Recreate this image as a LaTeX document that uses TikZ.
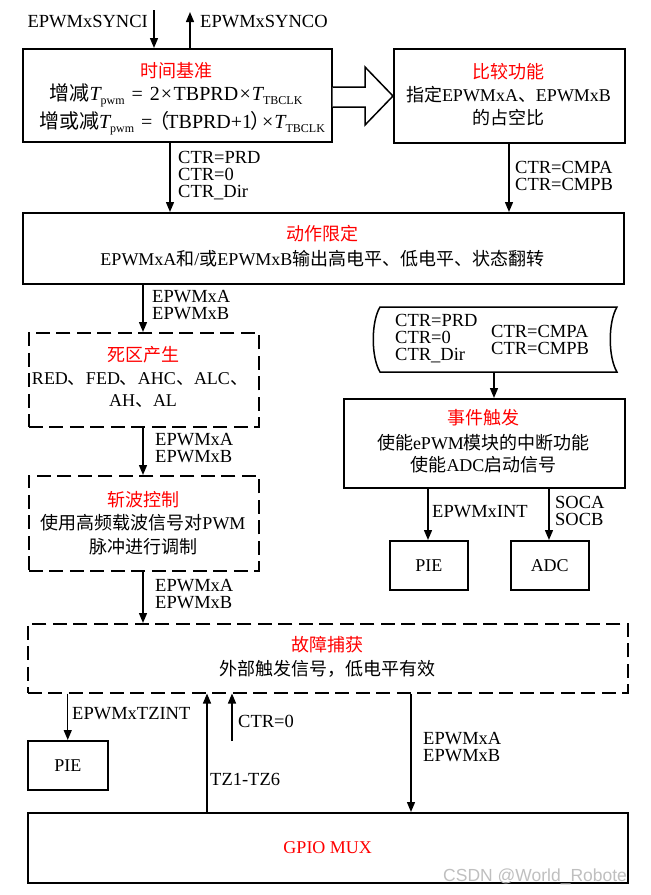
\documentclass[tikz,border=0pt]{standalone}
\usepackage{fontspec}
\setmainfont{Liberation Serif}
\newfontfamily\cjk{Noto Sans CJK SC}
\newfontfamily\wmfont{Liberation Sans}
\usetikzlibrary{arrows.meta}
\newcommand\zh[1]{{\cjk #1}}
\newcommand\sbx[1]{\raisebox{-4pt}{\fontsize{12}{12}\selectfont #1}}
\begin{document}
\begin{tikzpicture}[x=1pt,y=-1pt,
  box/.style={draw, line width=1.5pt, inner sep=0pt, anchor=north west},
  dbox/.style={box, dash pattern=on 14pt off 6.5pt},
  ttl/.style={text=red, font=\fontsize{18}{18}\selectfont\cjk, inner sep=0pt},
  txt/.style={font=\fontsize{18}{18}\selectfont, inner sep=0pt},
  mth/.style={font=\fontsize{20}{20}\selectfont, inner sep=0pt},
  lbl/.style={font=\fontsize{18.5}{17}\selectfont, align=left, anchor=west, inner sep=0pt},
  arr/.style={line width=1.4pt, -{Triangle[length=10pt,width=8pt]}},
  hollow/.style={line width=1.5pt, fill=white, line join=miter}]
\useasboundingbox (0,0) rectangle (651,895);

% boxes
\node[box, minimum width=309, minimum height=93] (tb) at (22,48) {};
\node[box, minimum width=231, minimum height=94] (cmp) at (393,48) {};
\node[box, minimum width=601, minimum height=71] (act) at (22,212) {};
\node[dbox, minimum width=230, minimum height=94] (db) at (28,332) {};
\node[dbox, minimum width=230, minimum height=95] (pc) at (28,475) {};
\node[box, minimum width=281, minimum height=89] (ev) at (343,398) {};
\node[box, minimum width=78, minimum height=49] (pie1) at (389,540) {};
\node[box, minimum width=78, minimum height=49] (adc) at (510,540) {};
\node[dbox, minimum width=600, minimum height=69] (tz) at (27,623) {};
\node[box, minimum width=80, minimum height=49] (pie2) at (27,740) {};
\node[box, minimum width=600, minimum height=70] (gpio) at (27,812) {};

% texts
\node[ttl] (tbT) at (176,71) {时间基准};
\node[mth] (tb1) at (176,95) {\zh{增减}{\itshape T}\sbx{pwm}\hspace{7pt}=\hspace{7pt}2\hspace{1pt}×\hspace{1.5pt}TBPRD\hspace{1.5pt}×\hspace{1pt}{\itshape T}\sbx{TBCLK}};
\node[mth] (tb2) at (182,123) {\zh{增或减}{\itshape T}\sbx{pwm}\hspace{7pt}=\hspace{-3pt}\zh{（}\hspace{-3pt}TBPRD+1\hspace{-2pt}\zh{）}\hspace{-8pt}×\hspace{1pt}{\itshape T}\sbx{TBCLK}};

\node[ttl] (cmpT) at (508.5,72) {比较功能};
\node[txt] (cmp1) at (508.5,95) {\zh{指定}EPWMxA\zh{、}EPWMxB};
\node[txt] (cmp2) at (508.5,118) {\zh{的占空比}};

\node[ttl] (actT) at (322.5,234) {动作限定};
\node[txt] (act1) at (322.5,259) {EPWMxA\zh{和}/\zh{或}EPWMxB\zh{输出高电平、低电平、状态翻转}};

\node[ttl] (dbT) at (143,355) {死区产生};
\node[txt] (db1) at (140,379) {RED\zh{、}FED\zh{、}AHC\zh{、}ALC\zh{、}};
\node[txt] (db2) at (143,401) {AH\zh{、}AL};

\node[ttl] (pcT) at (143,500) {斩波控制};
\node[txt] (pc1) at (143,523) {\zh{使用高频载波信号对}PWM};
\node[txt] (pc2) at (143,547) {\zh{脉冲进行调制}};

\node[ttl] (evT) at (483.5,418) {事件触发};
\node[txt] (ev1) at (483.5,443) {\zh{使能}ePWM\zh{模块的中断功能}};
\node[txt] (ev2) at (483.5,465) {\zh{使能}ADC\zh{启动信号}};

\node[txt] (pie1T) at (pie1.center) {PIE};
\node[txt] (adcT) at (adc.center) {ADC};
\node[txt] (pie2T) at (pie2.center) {PIE};

\node[ttl] (tzT) at (327,645) {故障捕获};
\node[txt] (tz1) at (327,669) {\zh{外部触发信号，低电平有效}};

\node[txt, text=red] (gpioT) at (gpio.center) {GPIO MUX};

% stored-data shape
\draw[line width=1.5pt] (380,307) .. controls (371,322) and (371,357) .. (380,372)
  -- (617,372) .. controls (608,357) and (608,322) .. (617,307) -- cycle;
\coordinate (tapeB) at (494,372);
\node[lbl] (tapeL) at (395,338.5) {CTR=PRD\\CTR=0\\CTR\_Dir};
\node[lbl] (tapeR) at (491,340) {CTR=CMPA\\CTR=CMPB};

% top sync
\coordinate (syncI) at (154,10);
\coordinate (syncO) at (190,12);
\draw[arr] (syncI) -- (syncI |- tb.north);
\draw[arr] (syncO |- tb.north) -- (syncO);
\node[lbl, anchor=east] (syncIL) at (148,22) {EPWMxSYNCI};
\node[lbl] (syncOL) at (200,22) {EPWMxSYNCO};

% hollow arrow tb -> cmp
\draw[hollow] (tb.east |- 0,87) -- (365,87) -- (365,67) -- (cmp.west |- 0,96) -- (365,125) -- (365,107) -- (tb.east |- 0,107);

% tb -> act, cmp -> act
\draw[arr] (tb.south -| 170,0) -- (act.north -| 170,0);
\node[lbl] (l1) at (178,176) {CTR=PRD\\CTR=0\\CTR\_Dir};
\draw[arr] (cmp.south -| 509,0) -- (act.north -| 509,0);
\node[lbl] (l2) at (515,176) {CTR=CMPA\\CTR=CMPB};

% left chain
\draw[arr] (act.south -| 143,0) -- (db.north -| 143,0);
\node[lbl] (l3) at (152,305) {EPWMxA\\EPWMxB};
\draw[arr] (db.south -| 143,0) -- (pc.north -| 143,0);
\node[lbl] (l4) at (155,448.5) {EPWMxA\\EPWMxB};
\draw[arr] (pc.south -| 143,0) -- (tz.north -| 143,0);
\node[lbl] (l5) at (155,594.5) {EPWMxA\\EPWMxB};

% event chain
\draw[arr] (tapeB) -- (tapeB |- ev.north);
\draw[arr] (ev.south -| 428,0) -- (pie1.north -| 428,0);
\node[lbl] (l6) at (432,512) {EPWMxINT};
\draw[arr] (ev.south -| 549,0) -- (adc.north -| 549,0);
\node[lbl] (l7) at (555,511) {SOCA\\SOCB};

% trip zone
\draw[arr] (tz.south -| pie2.north) -- (pie2.north);
\node[lbl] (l8) at (72,714) {EPWMxTZINT};
\draw[arr] (gpio.north -| 207,0) -- (tz.south -| 207,0);
\node[lbl] (l9) at (210,779) {TZ1-TZ6};
\coordinate (ctr0) at (232,741);
\draw[arr] (ctr0) -- (ctr0 |- tz.south);
\node[lbl] (l10) at (238,721) {CTR=0};
\draw[arr] (tz.south -| 411,0) -- (gpio.north -| 411,0);
\node[lbl] (l11) at (423,747) {EPWMxA\\EPWMxB};

% watermark
\node[anchor=west, inner sep=0pt, text=black!25, font=\wmfont\fontsize{17.5}{17.5}\selectfont] (wm) at (443,877) {CSDN @World\_Robote};
\end{tikzpicture}
\end{document}
